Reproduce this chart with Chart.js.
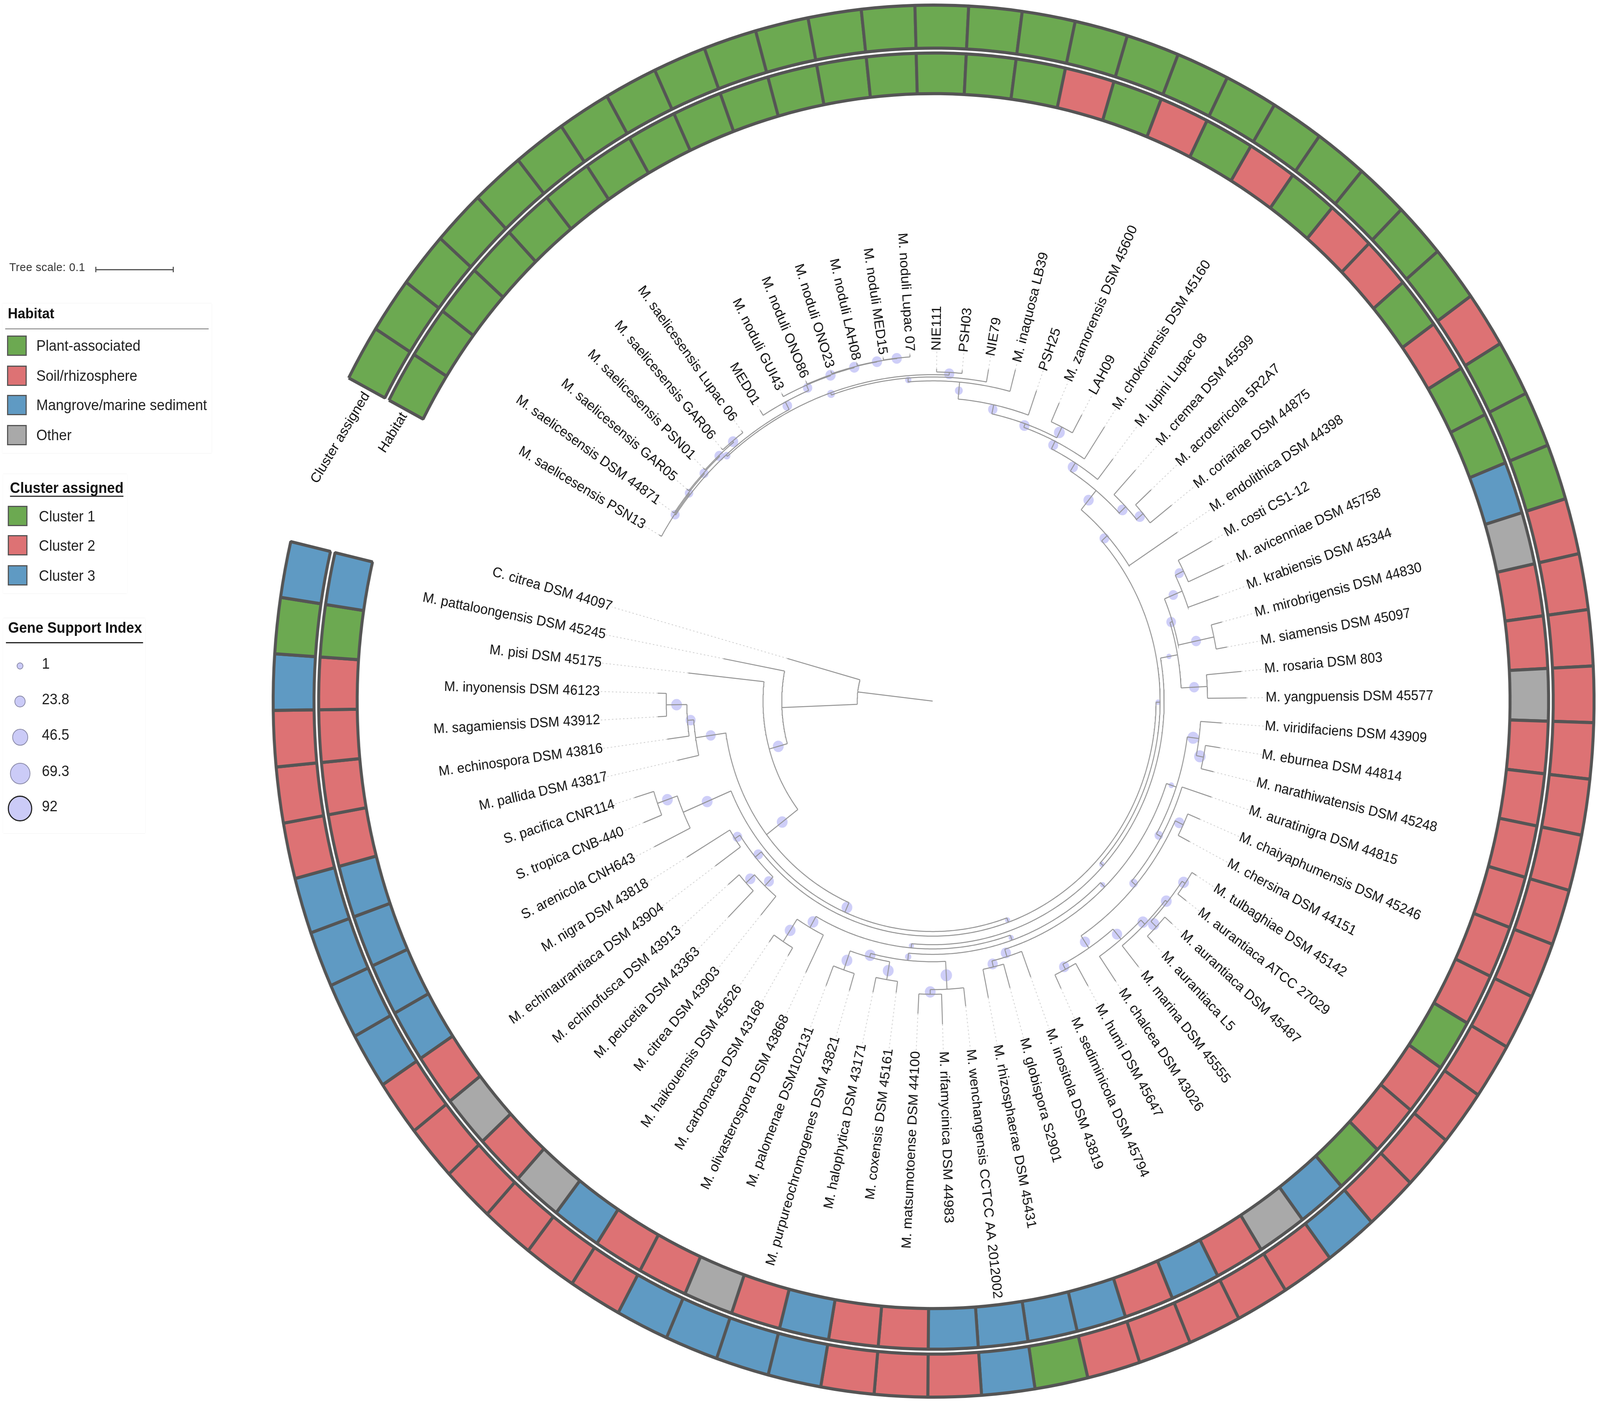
<!DOCTYPE html>
<html>
<head>
<meta charset="utf-8">
<title>Micromonospora tree</title>
<script src="https://cdn.jsdelivr.net/npm/chart.js@4"></script>
<style>
  html, body { margin:0; padding:0; background:#fff; overflow:hidden; }
  #stage { position:absolute; left:0; top:0; width:4317px; height:3592px; overflow:hidden; transform-origin:0 0;
           font-family:"Liberation Sans", Arial, sans-serif; color:#111; }
  canvas { position:absolute; }
  .box { position:absolute; background:#fff; box-shadow:0 0 3px #e4e4e4; }
  .txt { position:absolute; white-space:nowrap; line-height:1; transform:translateY(-50%); }
  .rule { position:absolute; background:#555; }
  .swatch { position:absolute; width:53px; height:52px; box-sizing:border-box; border:3px solid #555; }
  .bubble { position:absolute; box-sizing:border-box; border-radius:50%; background:#cbcbf7; }
</style>
</head>
<body>
<div id="stage">
  <canvas id="rings" width="3592" height="3592" style="left:723px;top:-1px"></canvas>
  <canvas id="tree" width="4317" height="3592" style="left:0;top:0"></canvas>
  <div id="legend"></div>
</div>

<script>
// the window can come out narrower than the reference, keep the whole frame visible
document.getElementById('stage').style.transform = `scaleX(${Math.min(1, window.innerWidth / 4317)})`;

// ── Data ──
const taxa = [
  'M. saelicesensis PSN13','M. saelicesensis DSM 44871','M. saelicesensis GAR05','M. saelicesensis PSN01',
  'M. saelicesensis GAR06','M. saelicesensis Lupac 06','MED01','M. noduli GUI43','M. noduli ONO86','M. noduli ONO23',
  'M. noduli LAH08','M. noduli MED15','M. noduli Lupac 07','NIE111','PSH03','NIE79','M. inaquosa LB39','PSH25',
  'M. zamorensis DSM 45600','LAH09','M. chokoriensis DSM 45160','M. lupini Lupac 08','M. cremea DSM 45599',
  'M. acroterricola 5R2A7','M. coriariae DSM 44875','M. endolithica DSM 44398','M. costi CS1-12',
  'M. avicenniae DSM 45758','M. krabiensis DSM 45344','M. mirobrigensis DSM 44830','M. siamensis DSM 45097',
  'M. rosaria DSM 803','M. yangpuensis DSM 45577','M. viridifaciens DSM 43909','M. eburnea DSM 44814',
  'M. narathiwatensis DSM 45248','M. auratinigra DSM 44815','M. chaiyaphumensis DSM 45246','M. chersina DSM 44151',
  'M. tulbaghiae DSM 45142','M. aurantiaca ATCC 27029','M. aurantiaca DSM 45487','M. aurantiaca L5',
  'M. marina DSM 45555','M. chalcea DSM 43026','M. humi DSM 45647','M. sediminicola DSM 45794',
  'M. inositola DSM 43819','M. globispora S2901','M. rhizosphaerae DSM 45431','M. wenchangensis CCTCC AA 2012002',
  'M. rifamycinica DSM 44983','M. matsumotoense DSM 44100','M. coxensis DSM 45161','M. halophytica DSM 43171',
  'M. purpureochromogenes DSM 43821','M. palomenae DSM102131','M. olivasterospora DSM 43868',
  'M. carbonacea DSM 43168','M. haikouensis DSM 45626','M. citrea DSM 43903','M. peucetia DSM 43363',
  'M. echinofusca DSM 43913','M. echinaurantiaca DSM 43904','M. nigra DSM 43818','S. arenicola CNH643',
  'S. tropica CNB-440','S. pacifica CNR114','M. pallida DSM 43817','M. echinospora DSM 43816',
  'M. sagamiensis DSM 43912','M. inyonensis DSM 46123','M. pisi DSM 45175','M. pattaloongensis DSM 45245',
  'C. citrea DSM 44097'
];

// tree depth of each tip; the scale bar (0.1) spans 210 of these units
const tipDepth = [
  858,860,864,866,870,870,885,893,895,896,897,897,897,858,858,870,885,850,843,843,848,794,812,806,823,795,
  863,865,822,812,812,842,853,787,790,785,797,788,787,846,860,868,865,885,878,848,820,761,770,781,793,835,
  808,759,769,781,790,781,766,764,723,787,730,728,780,845,846,848,710,728,748,747,668,579,410
];

// name, depth, gene support, children (number = tip index)
const treeNodes = [
  ['root',205,0,[74,'n1']], ['n1',410,0,[73,'n2']], ['n2',461,20,[72,'n3']], ['n3',568,20,['n4','n9']],
  ['n4',651,17,[68,'n5']], ['n5',668,17,[69,'n6']], ['n6',724,20,[70,71]], ['n9',595,20,['n8','lam']],
  ['n8',736,20,[65,'n8a']], ['n8a',793,20,[66,67]], ['lam',607,1,['a0','om']], ['a0',628,16,['a1','a2']],
  ['a1',644,16,[63,64]], ['a2',660,17,[60,'a3']], ['a3',691,18,[61,62]], ['om',618,1,['w1','t2']],
  ['t2',629,1,['y2','v']], ['v',640,1,['b1','u']], ['b1',673,20,['b2',57]], ['b2',742,20,[58,59]],
  ['u',654,1,['c0','t']], ['c0',673,5,['c1','d']], ['c1',683,20,['c2','c3']], ['c2',735,20,[55,56]],
  ['c3',730,20,[53,54]], ['d',745,22,['e',50]], ['e',757,20,[51,52]], ['t',670,1,['g0','r']],
  ['g0',690,18,['g1',47]], ['g1',706,18,[48,49]], ['r',698,2,['p','m2']], ['p',730,22,[33,'q']],
  ['q',750,22,[34,35]], ['m2',713,12,[36,'m1']], ['m1',728,12,['l','h1']], ['l',752,18,[37,38]],
  ['h1',766,18,['h2','h3']], ['h2',781,18,[45,46]], ['h3',800,18,[44,'h4']], ['h4',815,20,[43,'h5']],
  ['h5',822,20,['i','j']], ['i',842,22,[41,42]], ['j',832,20,[39,40]], ['y2',676,1,['y3','y1']],
  ['y3',683,16,['y4','y5']], ['y4',735,15,['y7',28]], ['y7',760,15,[26,27]], ['y5',782,17,[29,30]],
  ['y1',747,17,[31,32]], ['w1',638,16,['bb',25]], ['bb',702,18,['cc','x']], ['x',726,18,[22,'aa']],
  ['aa',749,18,[23,24]], ['cc',727,18,[21,'ff']], ['ff',749,17,[20,'jj']], ['jj',759,18,['ee','hh']],
  ['ee',790,20,[18,19]], ['hh',783,15,['ll',17]], ['ll',827,10,['mm',16]], ['mm',837,5,['oo',15]],
  ['oo',843,10,['ss','kk']], ['kk',850,18,[13,14]], ['ss',848,8,['rr1','tt']], ['rr1',851,14,[0,'rr2']],
  ['rr2',854,12,[1,'rr3']], ['rr3',857,14,[2,'rr4']], ['rr4',860,16,[3,'rr5']], ['rr5',864,18,[4,5]],
  ['tt',870,16,[6,'uu']], ['uu',885,15,[7,'no2']], ['no2',887,18,[8,'no3']], ['no3',889,18,[9,'no4']],
  ['no4',890,18,[10,'no5']], ['no5',891,18,[11,12]]
];

// one letter per tip, C. citrea (last tip) has no strip cell
const habitat = 'PPPPPPPPPPPPPPPPSPSPSPSSPSPPMOSSOSSSSSSPSSPMOSMSMMMMSSMSOSSMOSOSMMMMSSSSPM'.split('');
const cluster = [
  ...Array(25).fill(1), 2, 1, 1, 1, ...Array(14).fill(2), 3, 2, 2, 2, 2, 2, 1, 3, 2, 2, 2, 3, 3, 3, 3,
  ...Array(6).fill(2), 3, 3, 3, 3, 2, 2, 2, 3, 1, 3
];

const habitatNames = { P:'Plant-associated', S:'Soil/rhizosphere', M:'Mangrove/marine sediment', O:'Other' };
const clusterNames = ['Cluster 1','Cluster 2','Cluster 3'];
const supportLevels = [1, 23.8, 46.5, 69.3, 92];

// ── Geometry helpers ──
const COL = { green:'#6ca951', red:'#dd7274', blue:'#5f9ac3', grey:'#a9a9a9', edge:'#555555' };
const habitatColor = { P:COL.green, S:COL.red, M:COL.blue, O:COL.grey };
const clusterColor = { 1:COL.green, 2:COL.red, 3:COL.blue };

const START_ANGLE = 300, STEP = 4.67, LABEL_DEPTH = 905;
const leafAngle = i => START_ANGLE + STEP * i;
const polar = (depth, deg) => {
  const a = deg * Math.PI / 180;
  return { x: depth * Math.sin(a), y: depth * Math.cos(a) };
};

const nodeByName = {};
treeNodes.forEach(n => { nodeByName[n[0]] = { depth:n[1], support:n[2], kids:n[3] }; });

const branchPts = [], leaderPts = [], dotPts = [], dotSizes = [];

function walk(id, parentDepth) {
  if (typeof id === 'number') {
    const t = leafAngle(id);
    branchPts.push(polar(parentDepth, t), polar(tipDepth[id], t), { x:NaN, y:NaN });
    leaderPts.push(polar(tipDepth[id], t), polar(LABEL_DEPTH, t), { x:NaN, y:NaN });
    return t;
  }
  const node = nodeByName[id];
  const angles = node.kids.map(k => walk(k, node.depth));
  const lo = Math.min(...angles), hi = Math.max(...angles), mid = (lo + hi) / 2;
  for (let a = lo; a < hi; a += 0.5) branchPts.push(polar(node.depth, a));
  branchPts.push(polar(node.depth, hi), { x:NaN, y:NaN });
  branchPts.push(polar(parentDepth, mid), polar(node.depth, mid), { x:NaN, y:NaN });
  if (node.support > 0) {
    dotPts.push(polar((parentDepth + node.depth) / 2, mid));
    dotSizes.push(7 + (node.support - 1) * 0.4);
  }
  return mid;
}
walk('root', 0);

// ── Rings ──
new Chart(document.getElementById('rings'), {
  type: 'doughnut',
  data: {
    labels: taxa.slice(0, cluster.length),
    datasets: [
      { label:'Cluster assigned', data:cluster.map(() => 1), weight:106, borderWidth:8, borderColor:COL.edge,
        backgroundColor:cluster.map(c => clusterColor[c]) },
      { label:'', data:[1], weight:12, borderWidth:0, backgroundColor:'rgba(0,0,0,0)' },
      { label:'Habitat', data:habitat.map(() => 1), weight:100, borderWidth:8, borderColor:COL.edge,
        backgroundColor:habitat.map(h => habitatColor[h]) }
    ]
  },
  options: {
    responsive:false, animation:false, devicePixelRatio:1,
    rotation: START_ANGLE - STEP / 2,
    circumference: STEP * cluster.length,
    radius: 1782, cutout: 1564,
    plugins: { legend:{ display:false }, tooltip:{ enabled:false } }
  }
});

// ── Tree ──
const labelPlugin = {
  id: 'tipLabels',
  afterDatasetsDraw(chart) {
    const { ctx, scales } = chart;
    const at = (depth, deg) => {
      const p = polar(depth, deg);
      return [scales.x.getPixelForValue(p.x), scales.y.getPixelForValue(p.y)];
    };
    ctx.save();
    ctx.fillStyle = '#111';
    ctx.textBaseline = 'middle';
    ctx.font = '36px "Liberation Sans", Arial, sans-serif';
    taxa.forEach((name, i) => {
      const t = leafAngle(i) % 360;
      const right = t < 180;
      const [px, py] = at(LABEL_DEPTH, t);
      ctx.save();
      ctx.translate(px, py);
      ctx.rotate((right ? t - 90 : t - 270) * Math.PI / 180);
      ctx.textAlign = right ? 'left' : 'right';
      ctx.fillText(name, 0, 0);
      ctx.restore();
    });
    [['Cluster assigned', 1747, 292.9], ['Habitat', 1622, 295.3]].forEach(([txt, d, t]) => {
      const [px, py] = at(d, t);
      ctx.save();
      ctx.translate(px, py);
      ctx.rotate(-58 * Math.PI / 180);
      ctx.textAlign = 'center';
      ctx.fillText(txt, 0, 0);
      ctx.restore();
    });
    ctx.restore();
  }
};

new Chart(document.getElementById('tree'), {
  type: 'scatter',
  data: {
    datasets: [
      { label:'leader', data:leaderPts, showLine:true, spanGaps:false, pointRadius:0, borderWidth:2,
        borderColor:'#cfcfcf', borderDash:[4,6] },
      { label:'branches', data:branchPts, showLine:true, spanGaps:false, pointRadius:0, borderWidth:2.5,
        borderColor:'#949494', tension:0 },
      { label:'support', data:dotPts, showLine:false, pointRadius:dotSizes, pointBorderWidth:0,
        pointBackgroundColor:'rgba(190,190,245,0.75)' }
    ]
  },
  options: {
    responsive:false, animation:false, devicePixelRatio:1,
    layout:{ padding:0 },
    scales: {
      x:{ type:'linear', display:false, min:-2519, max:1798 },
      y:{ type:'linear', display:false, min:-1797, max:1795 }
    },
    plugins: { legend:{ display:false }, tooltip:{ enabled:false } }
  },
  plugins: [labelPlugin]
});

// ── Legend blocks ──
const legend = document.getElementById('legend');
function add(cls, left, top, text, extra) {
  const el = document.createElement('div');
  el.className = cls;
  el.style.left = left + 'px';
  el.style.top = top + 'px';
  if (text !== null && text !== undefined) el.textContent = text;
  Object.assign(el.style, extra || {});
  legend.appendChild(el);
  return el;
}

add('txt', 25, 684, 'Tree scale: 0.1', { fontSize:'30px', color:'#333', letterSpacing:'0.5px' });
add('rule', 258, 689, null, { width:'210px', height:'3px' });
add('rule', 257, 683, null, { width:'3px', height:'14px' });
add('rule', 466, 683, null, { width:'3px', height:'14px' });

add('box', 6, 777, null, { width:'565px', height:'383px' });
add('txt', 21, 802, 'Habitat', { fontSize:'37px', fontWeight:'bold' });
add('rule', 14, 841, null, { width:'549px', height:'2px', background:'#777' });
Object.keys(habitatNames).forEach((k, i) => {
  const y = [859, 936, 1011, 1088][i];
  add('swatch', 19, y, null, { background:habitatColor[k] });
  add('txt', 98, y + 26, habitatNames[k], { fontSize:'38px', color:'#222' });
});

add('box', 8, 1214, null, { width:'335px', height:'305px' });
add('txt', 27, 1249, 'Cluster assigned', { fontSize:'38px', fontWeight:'bold' });
add('rule', 27, 1269, null, { width:'306px', height:'3px', background:'#333' });
clusterNames.forEach((c, i) => {
  const y = [1295, 1370, 1447][i];
  add('swatch', 21, y, null, { background:clusterColor[i + 1] });
  add('txt', 105, y + 27, c, { fontSize:'38px', color:'#222' });
});

add('box', 8, 1583, null, { width:'384px', height:'550px' });
add('txt', 22, 1607, 'Gene Support Index', { fontSize:'38px', fontWeight:'bold' });
add('rule', 16, 1644, null, { width:'370px', height:'3px', background:'#222' });
supportLevels.forEach((s, i) => {
  const cy = [1705, 1796, 1887, 1980, 2070][i], r = [9, 15, 21.5, 27.5, 33][i];
  add('bubble', 54 - r, cy - r, null, { width:2*r+'px', height:2*r+'px',
    border: (i === 4 ? '3px solid #222' : '2px solid #8a8aa8') });
  add('txt', 113, cy - 6, String(s), { fontSize:'38px', color:'#222' });
});
</script>
</body>
</html>
